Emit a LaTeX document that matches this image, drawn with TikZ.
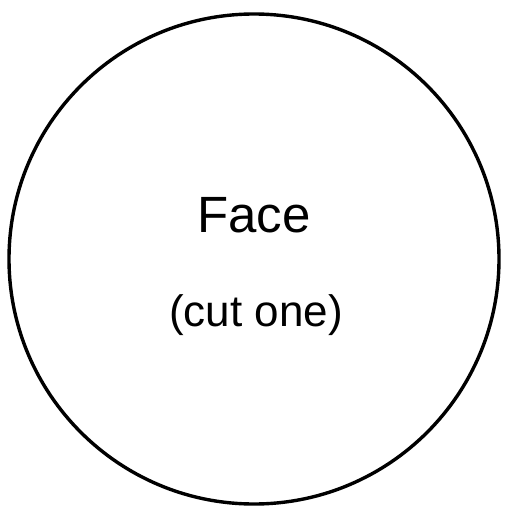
\documentclass[tikz,border=0pt]{standalone}
\usepackage{fontspec}
\setmainfont{Liberation Sans}
\begin{document}
\begin{tikzpicture}[x=1pt,y=-1pt]
\useasboundingbox (0,0) rectangle (508,513);
\tikzset{ring/.style={draw=black,line width=3.4pt}}
\node[ring,circle,minimum size=490pt,inner sep=0pt] (face) at (254,259) {};
\node[anchor=base,font=\fontsize{51}{60}\selectfont] (t1) at (254,232) {Face};
\node[anchor=base,font=\fontsize{44}{52}\selectfont] (t2) at (256,326) {(cut one)};
\end{tikzpicture}
\end{document}
